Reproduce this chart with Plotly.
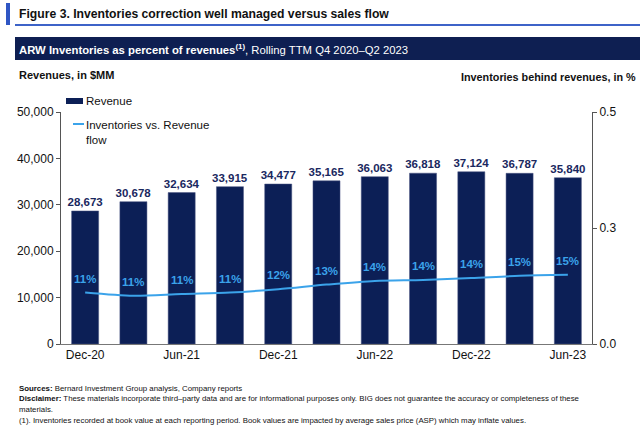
import plotly.graph_objects as go

# ---- data ----
periods = ["Dec-20", "Mar-21", "Jun-21", "Sep-21", "Dec-21", "Mar-22",
           "Jun-22", "Sep-22", "Dec-22", "Mar-23", "Jun-23"]
revenue = [28673, 30678, 32634, 33915, 34477, 35165, 36063, 36818, 37124, 36787, 35840]
inv_ratio = [0.111, 0.104, 0.108, 0.111, 0.118, 0.128, 0.136, 0.138, 0.142, 0.147, 0.149]
pct_labels = ["11%", "11%", "11%", "11%", "12%", "13%", "14%", "14%", "14%", "15%", "15%"]
x_ticks = ["Dec-20", "Jun-21", "Dec-21", "Jun-22", "Dec-22", "Jun-23"]
y_ticks = [0, 10000, 20000, 30000, 40000, 50000]
y2_ticks = [0, 0.25, 0.5]
y2_ticktext = ["0.0", "0.3", "0.5"]

NAVY = "#0c1f56"
LBLUE = "#3ba3ea"
FONT = "Liberation Sans, Arial, sans-serif"

W, H = 640, 433
L, R, T, B = 61, 592, 112, 344


def px(x):
    return (x - L) / (R - L)


def py(y):
    return (B - y) / (B - T)


fig = go.Figure()
fig.add_trace(go.Bar(
    x=periods, y=revenue, name="Revenue", width=0.56,
    marker=dict(color=NAVY, line=dict(color="#4a5580", width=0.5)),
    texttemplate="%{y:,.0f}", textposition="outside", constraintext="none",
    textfont=dict(color="#1a2860", size=11.5, family=FONT, weight="bold"),
    cliponaxis=False, showlegend=False, hoverinfo="skip",
))
fig.add_trace(go.Scatter(
    x=periods, y=inv_ratio, name="Inventories vs. Revenue flow", yaxis="y2",
    mode="lines", line=dict(color=LBLUE, width=2, shape="spline", smoothing=0.8),
    showlegend=False, hoverinfo="skip",
))

annotations = []
for p, v, t in zip(periods, inv_ratio, pct_labels):
    annotations.append(dict(x=p, y=v, xref="x", yref="y2", text="<b>%s</b>" % t,
                            showarrow=False, yshift=14,
                            font=dict(color=LBLUE, size=11.5, family=FONT)))


def txt(x, y, text, size, xanchor="left", color="#111111", yanchor="middle", align="left"):
    annotations.append(dict(x=px(x), y=py(y), xref="paper", yref="paper", text=text,
                            showarrow=False, xanchor=xanchor, yanchor=yanchor, align=align,
                            font=dict(size=size, color=color, family=FONT)))


txt(17, 14, "<b>Figure 3. Inventories correction well managed versus sales flow</b>", 12.2)
txt(17, 49, "<b>ARW Inventories as percent of revenues<sup>(1)</sup></b>, Rolling TTM Q4 2020–Q2 2023",
    11.3, color="white")
txt(17, 75, "<b>Revenues, in $MM</b>", 11)
txt(638, 77, "<b>Inventories behind revenues, in %</b>", 10.8, xanchor="right")
txt(84, 101, "Revenue", 11.5)
txt(84, 117, "Inventories vs. Revenue<br>flow", 11.5, yanchor="top")
txt(17, 388, "<b>Sources:</b> Bernard Investment Group analysis, Company reports", 7.85)
txt(17, 398.5, "<b>Disclaimer:</b> These materials incorporate third–party data and are for informational purposes only. BIG does not guarantee the accuracy or completeness of these", 7.85)
txt(17, 409, "materials.", 7.85)
txt(17, 420, "(1). Inventories recorded at book value at each reporting period. Book values are impacted by average sales price (ASP) which may inflate values.", 7.85)

shapes = [
    dict(type="rect", xref="paper", yref="paper", x0=px(6), x1=px(10), y0=py(3), y1=py(25),
         fillcolor="#2f56c4", line=dict(width=0)),
    dict(type="line", xref="paper", yref="paper", x0=px(15), x1=px(640), y0=py(25), y1=py(25),
         line=dict(color="#3d63c8", width=2)),
    dict(type="rect", xref="paper", yref="paper", x0=px(15), x1=px(640), y0=py(37), y1=py(60),
         fillcolor="#0e1f52", line=dict(width=0)),
    dict(type="rect", xref="paper", yref="paper", x0=px(66), x1=px(83), y0=py(98), y1=py(104),
         fillcolor=NAVY, line=dict(width=0)),
    dict(type="line", xref="paper", yref="paper", x0=px(73), x1=px(84), y0=py(124), y1=py(124),
         line=dict(color=LBLUE, width=2)),
]

fig.update_layout(
    width=W, height=H,
    margin=dict(l=L, r=W - R, t=T, b=H - B, pad=0),
    paper_bgcolor="white", plot_bgcolor="white",
    font=dict(family=FONT, size=12, color="#111111"),
    showlegend=False, hovermode=False,
    annotations=annotations, shapes=shapes,
    xaxis=dict(type="category", tickmode="array", tickvals=x_ticks, ticktext=x_ticks,
               showline=True, linecolor="#777777", linewidth=1, ticks="", showgrid=False,
               tickfont=dict(size=12, color="#111111"), range=[-0.5, len(periods) - 0.5]),
    yaxis=dict(range=[0, 50000], tickvals=y_ticks, tickformat=",", showline=True,
               linecolor="#555555", linewidth=1, ticks="outside", ticklen=4, tickcolor="#555555",
               showgrid=False, zeroline=False, tickfont=dict(size=12, color="#111111")),
    yaxis2=dict(range=[0, 0.5], overlaying="y", side="right", tickvals=y2_ticks,
                ticktext=y2_ticktext, showline=True, linecolor="#555555", linewidth=1,
                ticks="outside", ticklen=4, tickcolor="#555555", showgrid=False,
                zeroline=False, tickfont=dict(size=12, color="#111111")),
)

fig.write_html("out.html", config={"displayModeBar": False},
               post_script="document.body.style.margin='0';document.body.style.padding='0';")
